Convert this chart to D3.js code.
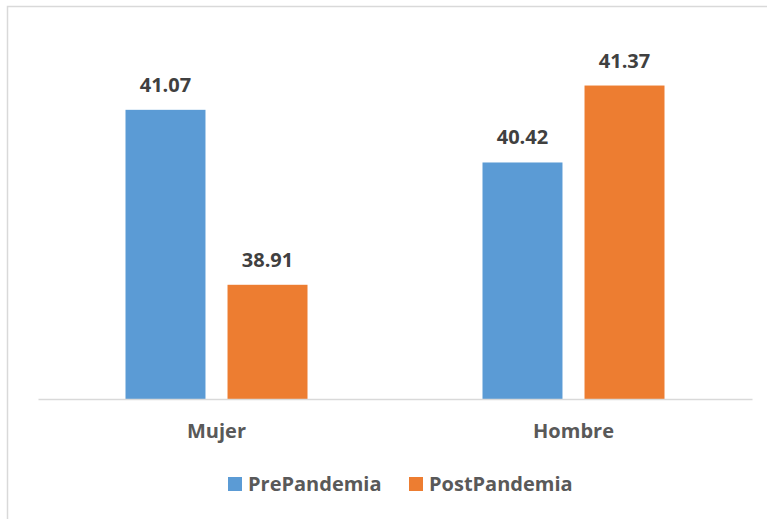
<!DOCTYPE html>
<html>
<head>
<meta charset="utf-8">
<script src="https://cdn.jsdelivr.net/npm/d3@7"></script>
<style>
  body { margin: 0; background: #fff; }
  svg text { font-family: "Open Sans", "Noto Sans", sans-serif; font-weight: bold; }
</style>
</head>
<body>
<div id="chart"></div>
<script>
// chart data
const categories = ["Mujer", "Hombre"];
const seriesNames = ["PrePandemia", "PostPandemia"];
const prePandemia = [41.07, 40.42];
const postPandemia = [38.91, 41.37];
const colors = ["#5b9bd5", "#ed7d31"];

const width = 767, height = 519;

var margin = { top: 34.5, left: 38, right: 15, bottom: 120 };
var plotW = width - margin.left - margin.right,
    plotH = height - margin.top - margin.bottom;

var svg = d3.select("#chart").append("svg")
    .attr("width", width)
    .attr("height", height);

// chart frame (runs off the right / bottom of the window)
svg.append("rect")
    .attr("x", 7.5).attr("y", 6.5)
    .attr("width", 800).attr("height", 600)
    .attr("fill", "none")
    .attr("stroke", "#d9d9d9")
    .attr("stroke-width", 1.5);

var g = svg.append("g")
    .attr("transform", "translate(" + margin.left + "," + margin.top + ")");

var x0 = d3.scaleBand()
    .domain(categories)
    .range([0, plotW]);

var x1 = d3.scaleBand()
    .domain(seriesNames)
    .range([87.5, x0.bandwidth() - 87.5])
    .paddingInner(0.216);

var y = d3.scaleLinear()
    .domain([37.5, 42])
    .range([plotH, 0]);

var rows = categories.map(function(c, i) {
  return { cat: c, vals: [prePandemia[i], postPandemia[i]] };
});

var groups = g.selectAll(".grp")
    .data(rows)
    .enter().append("g")
    .attr("transform", function(d) { return "translate(" + x0(d.cat) + ",0)"; });

groups.selectAll("rect")
    .data(function(d) { return d.vals.map(function(v, j) { return { s: seriesNames[j], v: v, j: j }; }); })
    .enter().append("rect")
    .attr("x", function(d) { return x1(d.s); })
    .attr("width", x1.bandwidth())
    .attr("y", function(d) { return y(d.v); })
    .attr("height", function(d) { return plotH - y(d.v); })
    .attr("fill", function(d) { return colors[d.j]; });

groups.selectAll(".lbl")
    .data(function(d) { return d.vals.map(function(v, j) { return { s: seriesNames[j], v: v }; }); })
    .enter().append("text")
    .attr("x", function(d) { return x1(d.s) + x1.bandwidth() / 2; })
    .attr("y", function(d) { return y(d.v) - 18; })
    .attr("text-anchor", "middle")
    .style("font-size", "20px")
    .attr("fill", "#404040")
    .text(function(d) { return d3.format(".2f")(d.v); });

// baseline axis
var xAxis = d3.axisBottom(x0).tickSize(0).tickPadding(25);
var ax = g.append("g")
    .attr("transform", "translate(0," + plotH + ")")
    .call(xAxis);
ax.select(".domain").attr("stroke", "#d9d9d9").attr("stroke-width", 1.5);
ax.selectAll("text")
    .style("font-size", "20px")
    .style("font-family", "'Open Sans', sans-serif")
    .style("font-weight", "bold")
    .attr("fill", "#595959")
    .attr("dy", "0.71em");

// legend
var legendX = [228, 409];
var leg = svg.selectAll(".leg")
    .data(seriesNames)
    .enter().append("g")
    .attr("transform", function(d, i) { return "translate(" + legendX[i] + ",477)"; });
leg.append("rect")
    .attr("width", 14).attr("height", 14)
    .attr("fill", function(d, i) { return colors[i]; });
leg.append("text")
    .attr("x", 20).attr("y", 14)
    .style("font-size", "20px")
    .attr("fill", "#595959")
    .text(function(d) { return d; });
</script>
</body>
</html>
